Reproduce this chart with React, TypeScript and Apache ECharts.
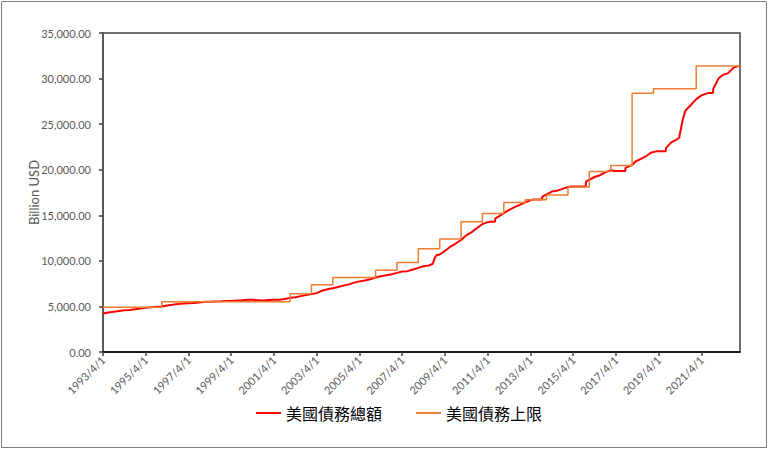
import React, { useEffect, useRef } from "react";
import * as echarts from "echarts";

const xTickLabels = [
  "1993/4/1", "1995/4/1", "1997/4/1", "1999/4/1", "2001/4/1", "2003/4/1", "2005/4/1",
  "2007/4/1", "2009/4/1", "2011/4/1", "2013/4/1", "2015/4/1", "2017/4/1", "2019/4/1", "2021/4/1",
];
const xStart = "1993/4/1";
const xEnd = "2023/1/19";

const debtDates = [
  "1993-04-01", "1993-07-01", "1993-10-01", "1994-01-01", "1994-04-01", "1994-07-01", "1994-10-01",
  "1995-01-01", "1995-04-01", "1995-07-01", "1995-10-01", "1996-01-01", "1996-04-01", "1996-07-01",
  "1996-10-01", "1997-01-01", "1997-04-01", "1997-07-01", "1997-10-01", "1998-01-01", "1998-04-01",
  "1998-07-01", "1998-10-01", "1999-01-01", "1999-04-01", "1999-07-01", "1999-10-01", "2000-01-01",
  "2000-04-01", "2000-07-01", "2000-10-01", "2001-01-01", "2001-04-01", "2001-07-01", "2001-10-01",
  "2002-01-01", "2002-04-01", "2002-07-01", "2002-10-01", "2003-01-01", "2003-04-01", "2003-07-01",
  "2003-10-01", "2004-01-01", "2004-04-01", "2004-07-01", "2004-10-01", "2005-01-01", "2005-04-01",
  "2005-07-01", "2005-10-01", "2006-01-01", "2006-04-01", "2006-07-01", "2006-10-01", "2007-01-01",
  "2007-04-01", "2007-07-01", "2007-10-01", "2008-01-01", "2008-04-01", "2008-07-01", "2008-09-01",
  "2008-10-15", "2008-11-15", "2009-01-01", "2009-04-01", "2009-07-01", "2009-10-01", "2010-01-01",
  "2010-04-01", "2010-07-01", "2010-10-01", "2011-01-01", "2011-04-01", "2011-05-15", "2011-08-01",
  "2011-08-10", "2011-10-01", "2012-01-01", "2012-04-01", "2012-07-01", "2012-10-01", "2012-12-31",
  "2013-05-15", "2013-10-15", "2013-10-20", "2014-01-01", "2014-04-01", "2014-07-01", "2014-10-01",
  "2015-01-01", "2015-03-15", "2015-10-30", "2015-11-05", "2016-01-01", "2016-04-01", "2016-07-01",
  "2016-10-01", "2017-01-01", "2017-03-15", "2017-09-07", "2017-09-10", "2017-12-31", "2018-03-01",
  "2018-06-01", "2018-09-01", "2018-12-01", "2019-03-01", "2019-07-31", "2019-08-05", "2019-11-01",
  "2020-02-01", "2020-03-15", "2020-04-15", "2020-05-15", "2020-07-01", "2020-10-01", "2021-01-01",
  "2021-04-01", "2021-07-31", "2021-10-15", "2021-10-20", "2021-12-16", "2022-01-15", "2022-04-01",
  "2022-07-01", "2022-10-01", "2023-01-19",
];
const debtValues = [
  4230, 4330, 4410, 4500, 4570, 4620, 4690,
  4780, 4860, 4920, 4970, 4990, 5110, 5180,
  5260, 5330, 5360, 5370, 5420, 5500, 5520,
  5550, 5560, 5600, 5610, 5640, 5680, 5730,
  5720, 5690, 5660, 5700, 5720, 5730, 5810,
  5940, 6000, 6130, 6240, 6350, 6460, 6720,
  6880, 7000, 7140, 7280, 7420, 7610, 7750,
  7840, 7990, 8170, 8320, 8420, 8540, 8680,
  8830, 8870, 9050, 9230, 9400, 9500, 9650,
  10400, 10650, 10700, 11100, 11550, 11900, 12300,
  12800, 13150, 13600, 14050, 14250, 14290, 14290,
  14650, 14850, 15230, 15600, 15900, 16150, 16430,
  16740, 16740, 17050, 17300, 17600, 17700, 17900,
  18100, 18150, 18150, 18700, 18900, 19200, 19400,
  19700, 19950, 19850, 19850, 20200, 20500, 20900,
  21200, 21500, 21900, 22030, 22030, 22400, 23000,
  23300, 23500, 24500, 25500, 26500, 27100, 27750,
  28150, 28430, 28430, 28900, 29600, 30000, 30400,
  30600, 31200, 31420,
];

const ceilingDates = [
  "1993-04-01", "1996-01-01", "2002-01-01", "2003-01-01", "2004-01-01", "2006-01-01", "2007-01-01",
  "2008-01-01", "2009-01-01", "2010-01-01", "2011-01-01", "2012-01-01", "2013-01-01", "2014-01-01",
  "2015-01-01", "2016-01-01", "2017-01-01", "2018-01-01", "2019-01-01", "2021-01-01", "2023-01-19",
];
const ceilingValues = [
  4900, 5500, 6400, 7384, 8184, 8965, 9815,
  11315, 12394, 14294, 15194, 16394, 16699, 17212,
  18113, 19809, 20456, 28401, 28881, 31381, 31381,
];

const seriesNames = ["美國債務總額", "美國債務上限"];

function toTs(s: string): number {
  const [y, m, d] = s.split(/[-/]/).map(Number);
  return Date.UTC(y, m - 1, d);
}

export default function App() {
  const ref = useRef<HTMLDivElement>(null);
  useEffect(() => {
    if (!ref.current) return;
    const chart = echarts.init(ref.current, undefined, { renderer: "svg" });
    const tickTs = xTickLabels.map(toTs);
    const labelFont = "Lato, 'Open Sans', sans-serif";
    chart.setOption({
      animation: false,
      backgroundColor: "#ffffff",
      graphic: [
        {
          type: "rect",
          shape: { x: 1.5, y: 1.5, width: 765, height: 446 },
          style: { fill: "none", stroke: "#7f7f7f", lineWidth: 1 },
          silent: true,
        },
      ],
      grid: {
        left: 103,
        right: 28,
        top: 33,
        bottom: 97,
        show: true,
        borderColor: "#404040",
        borderWidth: 1.5,
      },
      legend: {
        data: seriesNames,
        left: 251,
        top: 400,
        itemGap: 34,
        itemWidth: 25,
        itemHeight: 2,
        icon: "rect",
        textStyle: { fontFamily: "'Noto Sans CJK TC', sans-serif", fontSize: 16, color: "#000" },
      },
      xAxis: {
        type: "value",
        min: toTs(xStart),
        max: toTs(xEnd),
        axisLine: { show: true, lineStyle: { color: "#000", width: 1.5 } },
        axisTick: { show: true, customValues: tickTs, length: 4, lineStyle: { color: "#404040", width: 1.5 } },
        axisLabel: {
          customValues: tickTs,
          rotate: 45,
          margin: 6,
          color: "#595959",
          fontSize: 11,
          fontFamily: labelFont,
          formatter: (v: number) => {
            let best = 0;
            for (let i = 1; i < tickTs.length; i++) {
              if (Math.abs(tickTs[i] - v) < Math.abs(tickTs[best] - v)) best = i;
            }
            return xTickLabels[best];
          },
        },
        splitLine: { show: false },
      },
      yAxis: {
        type: "value",
        min: 0,
        max: 35000,
        interval: 5000,
        name: "Billion USD",
        nameLocation: "middle",
        nameGap: 63,
        nameMoveOverlap: false,
        nameTextStyle: { color: "#595959", fontSize: 13, fontFamily: labelFont },
        axisLine: { show: true, lineStyle: { color: "#595959", width: 2 } },
        axisTick: { show: true, length: 4, lineStyle: { color: "#404040", width: 1.5 } },
        axisLabel: {
          color: "#595959",
          fontSize: 11,
          fontFamily: labelFont,
          margin: 12,
          formatter: (v: number) =>
            v.toLocaleString("en-US", { minimumFractionDigits: 2, maximumFractionDigits: 2 }),
        },
        splitLine: { show: false },
      },
      series: [
        {
          name: seriesNames[0],
          type: "line",
          data: debtDates.map((d, i) => [toTs(d), debtValues[i]]),
          symbol: "none",
          lineStyle: { color: "#FF0000", width: 2 },
          itemStyle: { color: "#FF0000" },
        },
        {
          name: seriesNames[1],
          type: "line",
          step: "end",
          data: ceilingDates.map((d, i) => [toTs(d), ceilingValues[i]]),
          symbol: "none",
          lineStyle: { color: "#ED7D31", width: 1.5 },
          itemStyle: { color: "#ED7D31" },
        },
      ],
    });
    return () => chart.dispose();
  }, []);
  return (
    <div
      ref={ref}
      style={{ position: "fixed", left: 0, top: 0, width: 768, height: 449 }}
    />
  );
}
